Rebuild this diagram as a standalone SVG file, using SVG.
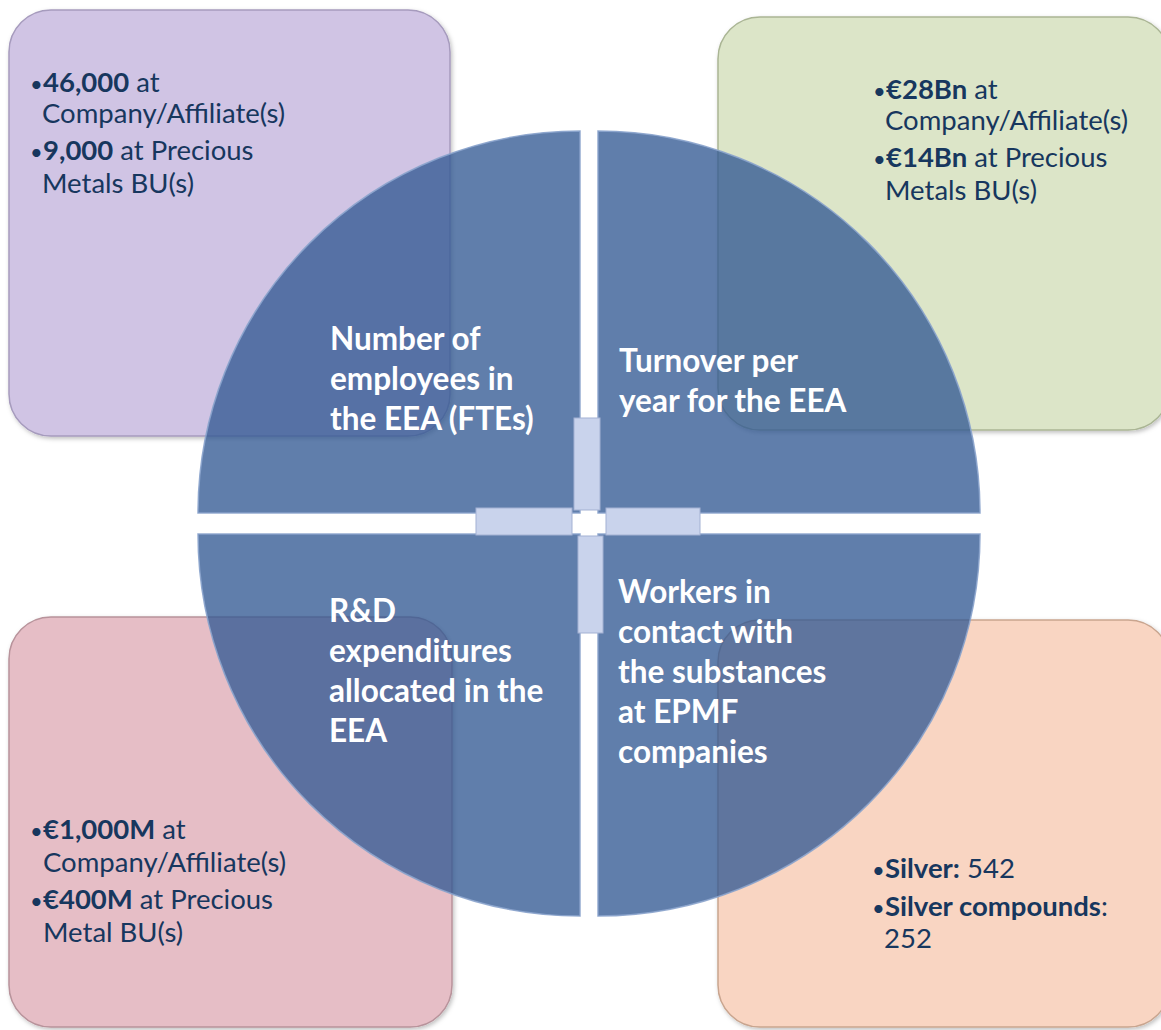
<svg xmlns="http://www.w3.org/2000/svg" width="1161" height="1030" viewBox="0 0 1161 1030">
  <style>
    .box { stroke-width: 1.5; filter: url(#shadow); }
    .quad { fill: #335a94; fill-opacity: 0.78; stroke: #8aa3cc; stroke-width: 1.5; stroke-opacity: 0.9; }
    .bar { fill: #c9d3ec; stroke: #a3b1d3; stroke-width: 1; }
    .btxt { font-family: Lato, "Liberation Sans", sans-serif; font-size: 27.5px; fill: #17375e; }
    .bul { font-size: 22px; }
    .qtxt { font-family: Lato, "Liberation Sans", sans-serif; font-size: 31.5px; font-weight: bold; fill: #ffffff; }
    .b { font-weight: bold; }
  </style>
  <defs>
    <filter id="shadow" x="-5%" y="-5%" width="110%" height="110%">
      <feDropShadow dx="1.5" dy="2" stdDeviation="2" flood-color="#000" flood-opacity="0.25"/>
    </filter>
  </defs>
  <rect width="1161" height="1030" fill="#ffffff"/>

  <g id="box-employees">
    <rect class="box" x="9" y="10" width="441" height="426" rx="42" fill="#d0c4e4" stroke="#a69bbd"/>
    <text class="btxt" y="92"><tspan x="30" class="bul">•</tspan><tspan x="43" class="b">46,000</tspan> at</text>
    <text class="btxt" x="42" y="123">Company/Affiliate(s)</text>
    <text class="btxt" y="160"><tspan x="30" class="bul">•</tspan><tspan x="43" class="b">9,000</tspan> at Precious</text>
    <text class="btxt" x="42" y="193">Metals BU(s)</text>
  </g>

  <g id="box-turnover">
    <rect class="box" x="718" y="17" width="452" height="413" rx="42" fill="#dce5c8" stroke="#aab594"/>
    <text class="btxt" y="99"><tspan x="873" class="bul">•</tspan><tspan x="886" class="b">€28Bn</tspan> at</text>
    <text class="btxt" x="885" y="130">Company/Affiliate(s)</text>
    <text class="btxt" y="167"><tspan x="873" class="bul">•</tspan><tspan x="886" class="b">€14Bn</tspan> at Precious</text>
    <text class="btxt" x="885" y="200">Metals BU(s)</text>
  </g>

  <g id="box-rnd">
    <rect class="box" x="9" y="617" width="443" height="410" rx="42" fill="#e6bec6" stroke="#b8939b"/>
    <text class="btxt" y="839"><tspan x="30" class="bul">•</tspan><tspan x="43" class="b">€1,000M</tspan> at</text>
    <text class="btxt" x="43" y="872">Company/Affiliate(s)</text>
    <text class="btxt" y="909"><tspan x="30" class="bul">•</tspan><tspan x="43" class="b">€400M</tspan> at Precious</text>
    <text class="btxt" x="43" y="942">Metal BU(s)</text>
  </g>

  <g id="box-workers">
    <rect class="box" x="718" y="620" width="452" height="407" rx="42" fill="#f9d5c2" stroke="#c9a58f"/>
    <text class="btxt" y="878"><tspan x="872" class="bul">•</tspan><tspan x="885" class="b">Silver:</tspan> 542</text>
    <text class="btxt" y="916"><tspan x="872" class="bul">•</tspan><tspan x="885" class="b">Silver compounds</tspan>:</text>
    <text class="btxt" x="884" y="948">252</text>
  </g>

  <g id="quad-employees">
    <path class="quad" d="M580,513 L198,513 A382,382 0 0 1 580,131 Z"/>
    <text class="qtxt" x="330" y="350">Number of</text>
    <text class="qtxt" x="330" y="390">employees in</text>
    <text class="qtxt" x="330" y="430">the EEA (FTEs)</text>
  </g>
  <g id="quad-turnover">
    <path class="quad" d="M598,513 L598,131 A382,382 0 0 1 980,513 Z"/>
    <text class="qtxt" x="619" y="372">Turnover per</text>
    <text class="qtxt" x="619" y="412">year for the EEA</text>
  </g>
  <g id="quad-rnd">
    <path class="quad" d="M580,534 L580,916 A382,382 0 0 1 198,534 Z"/>
    <text class="qtxt" x="329" y="622">R&amp;D</text>
    <text class="qtxt" x="329" y="662">expenditures</text>
    <text class="qtxt" x="329" y="702">allocated in the</text>
    <text class="qtxt" x="329" y="742">EEA</text>
  </g>
  <g id="quad-workers">
    <path class="quad" d="M598,534 L980,534 A382,382 0 0 1 598,916 Z"/>
    <text class="qtxt" x="618" y="603">Workers in</text>
    <text class="qtxt" x="618" y="643">contact with</text>
    <text class="qtxt" x="618" y="683">the substances</text>
    <text class="qtxt" x="618" y="723">at EPMF</text>
    <text class="qtxt" x="618" y="763">companies</text>
  </g>

  <g id="connectors">
    <rect class="bar" x="574" y="418" width="26" height="92"/>
    <rect class="bar" x="476" y="508" width="96" height="27"/>
    <rect class="bar" x="606" y="508" width="94" height="27"/>
    <rect class="bar" x="578" y="536" width="25" height="97"/>
  </g>
</svg>
